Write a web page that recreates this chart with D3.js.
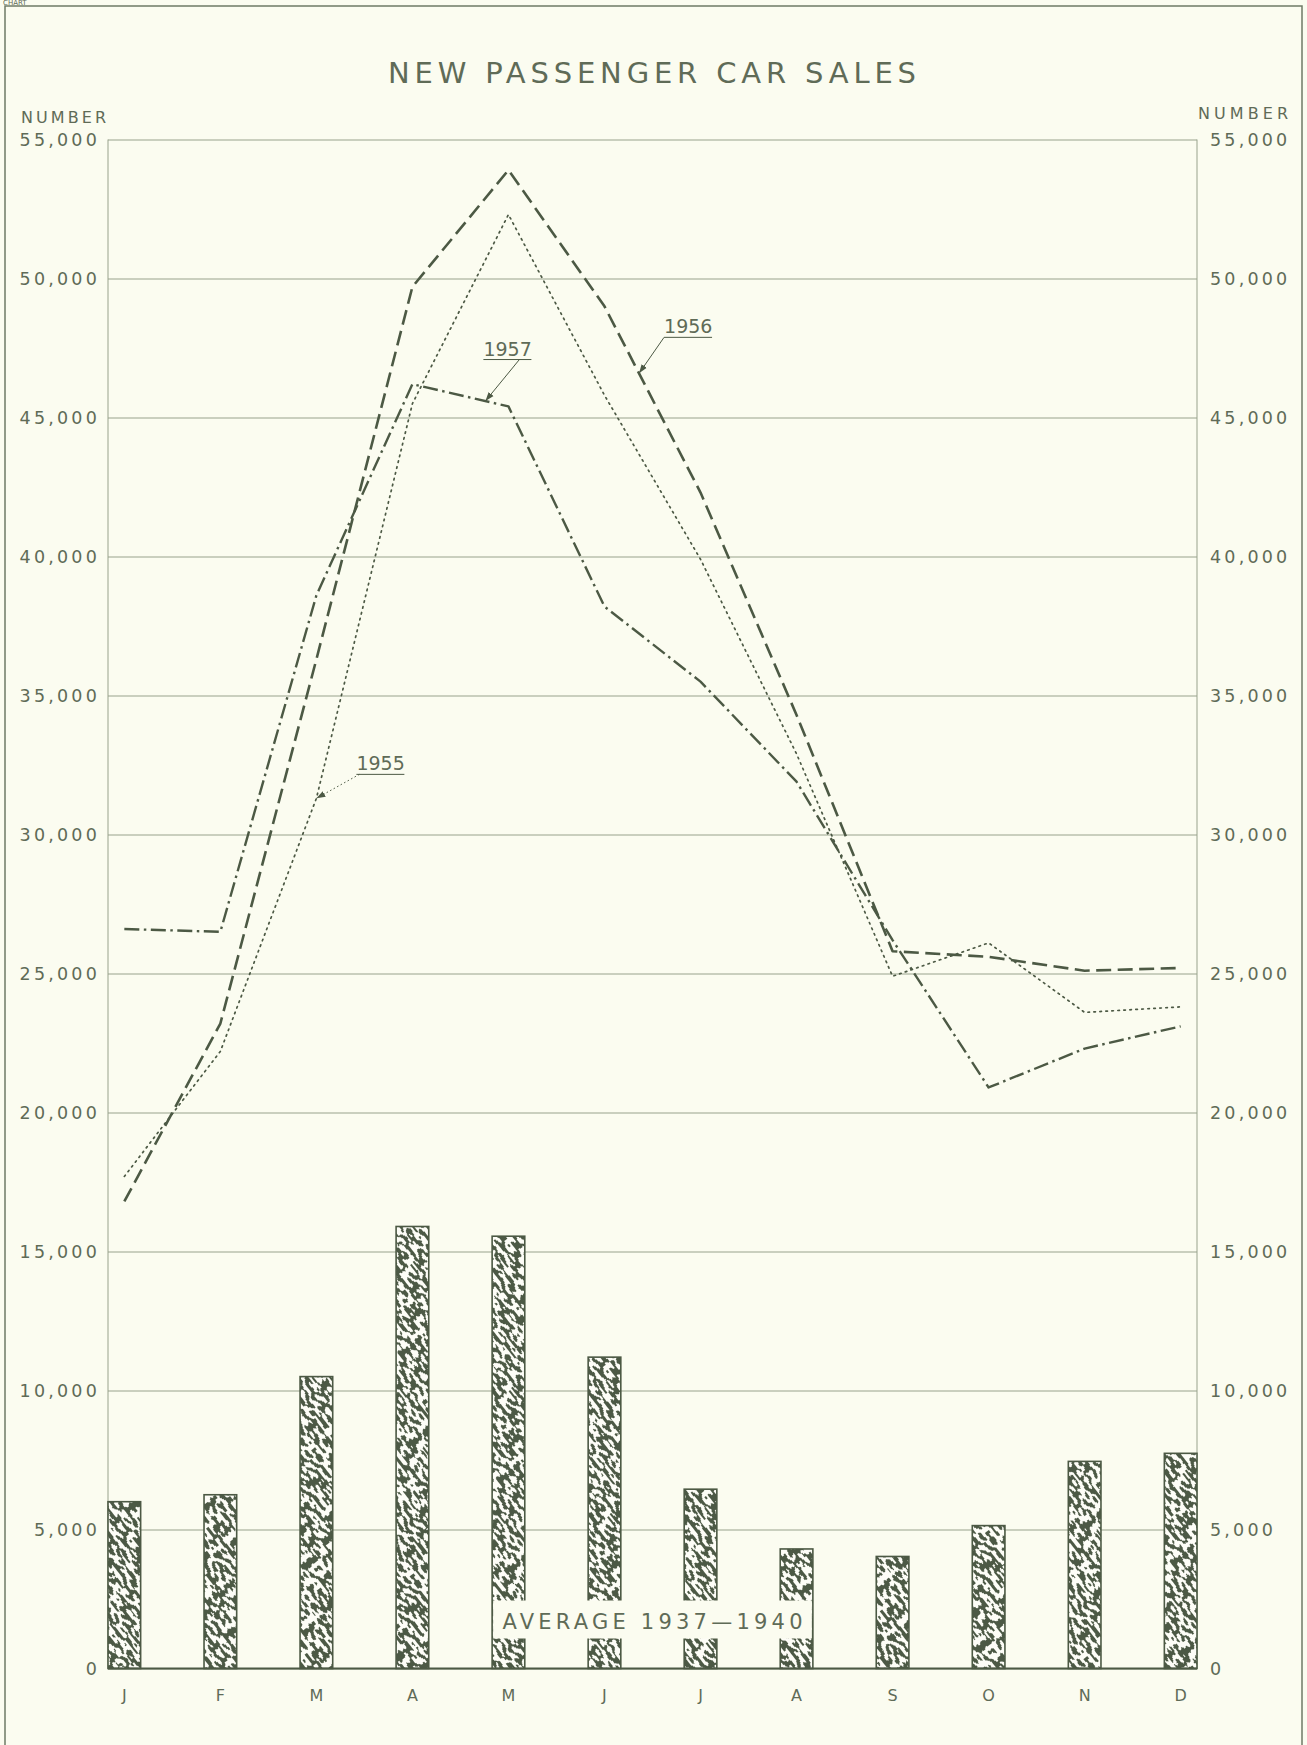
<!DOCTYPE html>
<html>
<head>
<meta charset="utf-8">
<script src="https://cdn.jsdelivr.net/npm/d3@7"></script>
<style>
  body { margin: 0; background: #fbfcf0; }
  text { font-family: "DejaVu Sans", sans-serif; fill: #5f6b57; }
</style>
</head>
<body>
<div id="chart"></div>
<script>
// Chart data
var months = ["Jan", "Feb", "Mar", "Apr", "May", "Jun", "Jul", "Aug", "Sep", "Oct", "Nov", "Dec"];
var monthTicks = ["J", "F", "M", "A", "M", "J", "J", "A", "S", "O", "N", "D"];
var yTicks = [0, 5000, 10000, 15000, 20000, 25000, 30000, 35000, 40000, 45000, 50000, 55000];

var sales1955 = [17700, 22200, 31300, 45500, 52300, 45800, 39900, 32900, 24900, 26100, 23600, 23800];
var sales1956 = [16800, 23200, 36300, 49700, 53900, 49000, 42300, 34300, 25800, 25600, 25100, 25200];
var sales1957 = [26600, 26500, 38600, 46200, 45400, 38200, 35500, 31900, 26200, 20900, 22300, 23100];
var average1937to1940 = [6000, 6250, 10500, 15900, 15550, 11200, 6450, 4300, 4030, 5140, 7450, 7740];

// Define SVG area dimensions
var svgWidth = 1307;
var svgHeight = 1745;

var chartMargin = {
  top: 139.5,
  right: 110,
  bottom: 76.5,
  left: 108
};

var chartWidth = svgWidth - chartMargin.left - chartMargin.right;
var chartHeight = svgHeight - chartMargin.top - chartMargin.bottom;

var ink = "#4c5944";
var gridColor = "#98a28c";
var textColor = "#5f6b57";

var svg = d3.select("#chart")
  .append("svg")
  .attr("width", svgWidth)
  .attr("height", svgHeight);

// paper
svg.append("rect")
  .attr("width", svgWidth)
  .attr("height", svgHeight)
  .attr("fill", "#fbfcf0");

// worm texture for the bars
var defs = svg.append("defs");

var noise = defs.append("filter")
  .attr("id", "wormNoise")
  .attr("x", 0).attr("y", 0).attr("width", 1).attr("height", 1)
  .attr("color-interpolation-filters", "sRGB");
noise.append("feTurbulence")
  .attr("type", "fractalNoise")
  .attr("baseFrequency", "0.13 0.28")
  .attr("numOctaves", 1)
  .attr("seed", 11)
  .attr("stitchTiles", "stitch");
noise.append("feColorMatrix")
  .attr("type", "matrix")
  .attr("values", "0 0 0 0 0.30  0 0 0 0 0.35  0 0 0 0 0.27  1 0 0 0 0");
noise.append("feComponentTransfer")
  .append("feFuncA")
  .attr("type", "discrete")
  .attr("tableValues", "1 1 1 1 1 1 1 1 1 1 1 0 0 0 0 0 0 0 0 0 0 0");

var worms = defs.append("pattern")
  .attr("id", "worms")
  .attr("patternUnits", "userSpaceOnUse")
  .attr("width", 160)
  .attr("height", 160)
  .attr("patternTransform", "rotate(52)");
worms.append("rect").attr("width", 160).attr("height", 160).attr("fill", "#fdfdf7");
worms.append("rect").attr("width", 160).attr("height", 160).attr("filter", "url(#wormNoise)");

var arrow = defs.append("marker")
  .attr("id", "arrow")
  .attr("viewBox", "0 0 10 10")
  .attr("refX", 10).attr("refY", 5)
  .attr("markerWidth", 9).attr("markerHeight", 9)
  .attr("markerUnits", "userSpaceOnUse")
  .attr("orient", "auto");
arrow.append("path").attr("d", "M0,1.5 L10,5 L0,8.5 Z").attr("fill", ink);

// outer frame and the small caption above it
svg.append("rect")
  .attr("x", 5).attr("y", 6)
  .attr("width", 1297).attr("height", 1800)
  .attr("fill", "none")
  .attr("stroke", "#6f7a66")
  .attr("stroke-width", 1.5);

svg.append("text")
  .attr("x", 3).attr("y", 5)
  .style("font-size", "7px")
  .text("CHART");

// Title
svg.append("text")
  .attr("x", 652)
  .attr("y", 83)
  .attr("text-anchor", "middle")
  .attr("textLength", 528)
  .attr("lengthAdjust", "spacing")
  .style("font-size", "29px")
  .text("NEW PASSENGER CAR SALES");

svg.append("text")
  .attr("x", 21).attr("y", 123)
  .attr("textLength", 85)
  .attr("lengthAdjust", "spacing")
  .style("font-size", "16px")
  .text("NUMBER");

svg.append("text")
  .attr("x", 1198).attr("y", 119)
  .attr("textLength", 90)
  .attr("lengthAdjust", "spacing")
  .style("font-size", "16px")
  .text("NUMBER");

var chartGroup = svg.append("g")
  .attr("transform", `translate(${chartMargin.left}, ${chartMargin.top})`);

// Scales
var xScale = d3.scaleBand()
  .domain(months)
  .range([0, chartWidth])
  .paddingInner(0.66)
  .paddingOuter(0);

var yScale = d3.scaleLinear()
  .domain([0, 55000])
  .range([chartHeight, 0]);

var xCenter = m => xScale(m) + xScale.bandwidth() / 2;

// Gridlines
chartGroup.append("g")
  .call(d3.axisLeft(yScale).tickValues(yTicks).tickSize(-chartWidth).tickFormat(""))
  .call(g => g.select(".domain").remove())
  .selectAll("line")
  .attr("stroke", gridColor)
  .attr("stroke-width", 1);

// plot side borders
chartGroup.append("line")
  .attr("x1", 0).attr("x2", 0)
  .attr("y1", 0).attr("y2", chartHeight)
  .attr("stroke", gridColor);
chartGroup.append("line")
  .attr("x1", chartWidth).attr("x2", chartWidth)
  .attr("y1", 0).attr("y2", chartHeight)
  .attr("stroke", gridColor);

// Axis labels, both sides
var leftAxis = d3.axisLeft(yScale).tickValues(yTicks).tickSize(0).tickPadding(8).tickFormat(d3.format(","));
var rightAxis = d3.axisRight(yScale).tickValues(yTicks).tickSize(0).tickPadding(13).tickFormat(d3.format(","));

chartGroup.append("g")
  .attr("class", "yaxis")
  .call(leftAxis);

chartGroup.append("g")
  .attr("class", "yaxis")
  .attr("transform", `translate(${chartWidth}, 0)`)
  .call(rightAxis);

chartGroup.selectAll(".yaxis .domain").remove();
chartGroup.selectAll(".yaxis text")
  .attr("fill", textColor)
  .style("font-family", "DejaVu Sans")
  .style("font-size", "17.5px")
  .style("letter-spacing", "3.2px");

// Bars (1937-1940 average)
chartGroup.selectAll(".bar")
  .data(average1937to1940)
  .enter()
  .append("rect")
  .attr("class", "bar")
  .attr("x", (d, i) => xScale(months[i]))
  .attr("y", d => yScale(d))
  .attr("width", xScale.bandwidth())
  .attr("height", d => chartHeight - yScale(d))
  .attr("fill", "url(#worms)")
  .attr("stroke", ink)
  .attr("stroke-width", 1.6);

// label box over the bars
var boxLeft = xScale(months[4]) + 1;
var boxRight = xScale(months[7]) + xScale.bandwidth() - 1;
chartGroup.append("rect")
  .attr("x", boxLeft)
  .attr("y", chartHeight - 68)
  .attr("width", boxRight - boxLeft)
  .attr("height", 38)
  .attr("fill", "#fbfcf0");

chartGroup.append("text")
  .attr("x", (boxLeft + boxRight) / 2)
  .attr("y", chartHeight - 40)
  .attr("text-anchor", "middle")
  .attr("textLength", 300)
  .attr("lengthAdjust", "spacing")
  .style("font-size", "21px")
  .text("AVERAGE 1937\u20141940");

// Baseline
chartGroup.append("line")
  .attr("x1", 0).attr("x2", chartWidth)
  .attr("y1", chartHeight).attr("y2", chartHeight)
  .attr("stroke", ink)
  .attr("stroke-width", 2);

// Month labels
chartGroup.append("g")
  .attr("class", "xaxis")
  .attr("transform", `translate(0, ${chartHeight})`)
  .call(d3.axisBottom(xScale).tickSize(0).tickPadding(21).tickFormat((d, i) => monthTicks[i]))
  .call(g => g.select(".domain").remove())
  .selectAll("text")
  .attr("fill", textColor)
  .style("font-family", "DejaVu Sans")
  .style("font-size", "16px");

// Lines
var series = [
  { name: "1955", values: sales1955, width: 1.7, dash: "1.6,4.4", cap: "round" },
  { name: "1956", values: sales1956, width: 2.6, dash: "15,6.5", cap: "butt" },
  { name: "1957", values: sales1957, width: 2.4, dash: "15,4.5,2.5,4.5", cap: "butt" }
];

var lineGen = d3.line()
  .x((d, i) => xCenter(months[i]))
  .y(d => yScale(d));

chartGroup.selectAll(".series")
  .data(series)
  .enter()
  .append("path")
  .attr("class", "series")
  .attr("d", s => lineGen(s.values))
  .attr("fill", "none")
  .attr("stroke", ink)
  .attr("stroke-width", s => s.width)
  .attr("stroke-dasharray", s => s.dash)
  .attr("stroke-linecap", s => s.cap)
  .attr("stroke-linejoin", "round");

// Year call-outs: arrow tip sits on the line between two months
var callouts = [
  { values: sales1955, label: "1955", from: 2, t: 0.0, textDx: 40, textDy: -28, lineDx: 43, lineDy: -24, dashed: true },
  { values: sales1956, label: "1956", from: 5, t: 0.36, textDx: 25, textDy: -40, lineDx: 25, lineDy: -36, dashed: false },
  { values: sales1957, label: "1957", from: 3, t: 0.76, textDx: -2, textDy: -45.5, lineDx: 34, lineDy: -41.5, dashed: false }
];

callouts.forEach(function(c) {
  var x0 = xCenter(months[c.from]), x1 = xCenter(months[c.from + 1]);
  var y0 = yScale(c.values[c.from]), y1 = yScale(c.values[c.from + 1]);
  var tipX = x0 + (x1 - x0) * c.t;
  var tipY = y0 + (y1 - y0) * c.t;
  var tx = tipX + c.textDx;
  var ty = tipY + c.textDy;

  chartGroup.append("text")
    .attr("x", tx)
    .attr("y", ty)
    .style("font-size", "19px")
    .text(c.label);

  chartGroup.append("line")
    .attr("x1", tx).attr("x2", tx + 48)
    .attr("y1", ty + 4).attr("y2", ty + 4)
    .attr("stroke", ink)
    .attr("stroke-width", 1);

  chartGroup.append("line")
    .attr("x1", tipX + c.lineDx).attr("y1", tipY + c.lineDy)
    .attr("x2", tipX).attr("y2", tipY)
    .attr("stroke", ink)
    .attr("stroke-width", 1)
    .attr("stroke-dasharray", c.dashed ? "1.5,2.5" : null)
    .attr("marker-end", "url(#arrow)");
});
</script>
</body>
</html>
